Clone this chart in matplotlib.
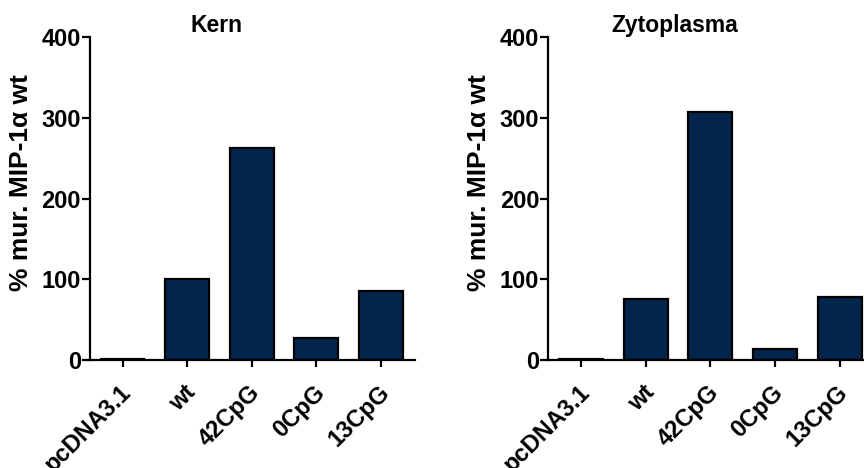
import matplotlib
matplotlib.use("Agg")
import matplotlib.pyplot as plt
import matplotlib.transforms as mtransforms

# -----------------------------
#  Data
# -----------------------------
constructs = ["pcDNA3.1", "wt", "42CpG", "0CpG", "13CpG"]
kern_values = [1, 100, 263, 27, 86]
zyto_values = [1, 76, 307, 14, 78]

panel_titles = ["Kern", "Zytoplasma"]
ylabel = "% mur. MIP-1\u03b1 wt"
yticks = [0, 100, 200, 300, 400]

bar_color = "#03254C"

plt.rcParams.update({
    "font.family": ["Liberation Sans", "DejaVu Sans"],
    "font.weight": "bold",
    "axes.linewidth": 1.6,
})

fig = plt.figure(figsize=(8.64, 4.68), dpi=100)

# axes positions in figure fraction (right panel runs off the page edge)
ax_left = fig.add_axes([0.104, 0.2308, 0.376, 0.690])
ax_right = fig.add_axes([0.6346, 0.2308, 0.376, 0.690])

# offset of the rotated category labels from the tick position
label_offset = mtransforms.ScaledTranslation(0.05, -0.29, fig.dpi_scale_trans)

for ax, vals, title in zip([ax_left, ax_right],
                           [kern_values, zyto_values],
                           panel_titles):
    x = list(range(len(constructs)))
    ax.bar(x, vals, width=0.68, color=bar_color,
           edgecolor="black", linewidth=1.6, zorder=2)

    ax.set_xlim(-0.505, 4.52)
    ax.set_ylim(0, 400)
    ax.set_yticks(yticks)
    ax.set_xticks(x)
    ax.set_xticklabels([])
    for lab in ax.get_yticklabels():
        lab.set_fontsize(17)
        lab.set_fontweight("bold")

    # rotated category names
    trans = mtransforms.blended_transform_factory(ax.transData, ax.transAxes)
    for xi, name in zip(x, constructs):
        ax.text(xi, 0, name, transform=trans + label_offset,
                rotation=45, rotation_mode="anchor", ha="right", va="center",
                fontsize=17, fontweight="bold", clip_on=False)

    ax.spines["top"].set_visible(False)
    ax.spines["right"].set_visible(False)
    ax.tick_params(axis="y", direction="out", length=6, width=1.6, pad=0.5)
    ax.tick_params(axis="x", direction="out", length=5, width=1.6)

    ax.set_ylabel(ylabel, fontsize=19, fontweight="bold")
    ax.yaxis.set_label_coords(-0.175, 0.55)
    ax.set_title(title, fontsize=16.5, fontweight="bold", x=0.39, pad=2)

fig.savefig("out.png", dpi=100)
